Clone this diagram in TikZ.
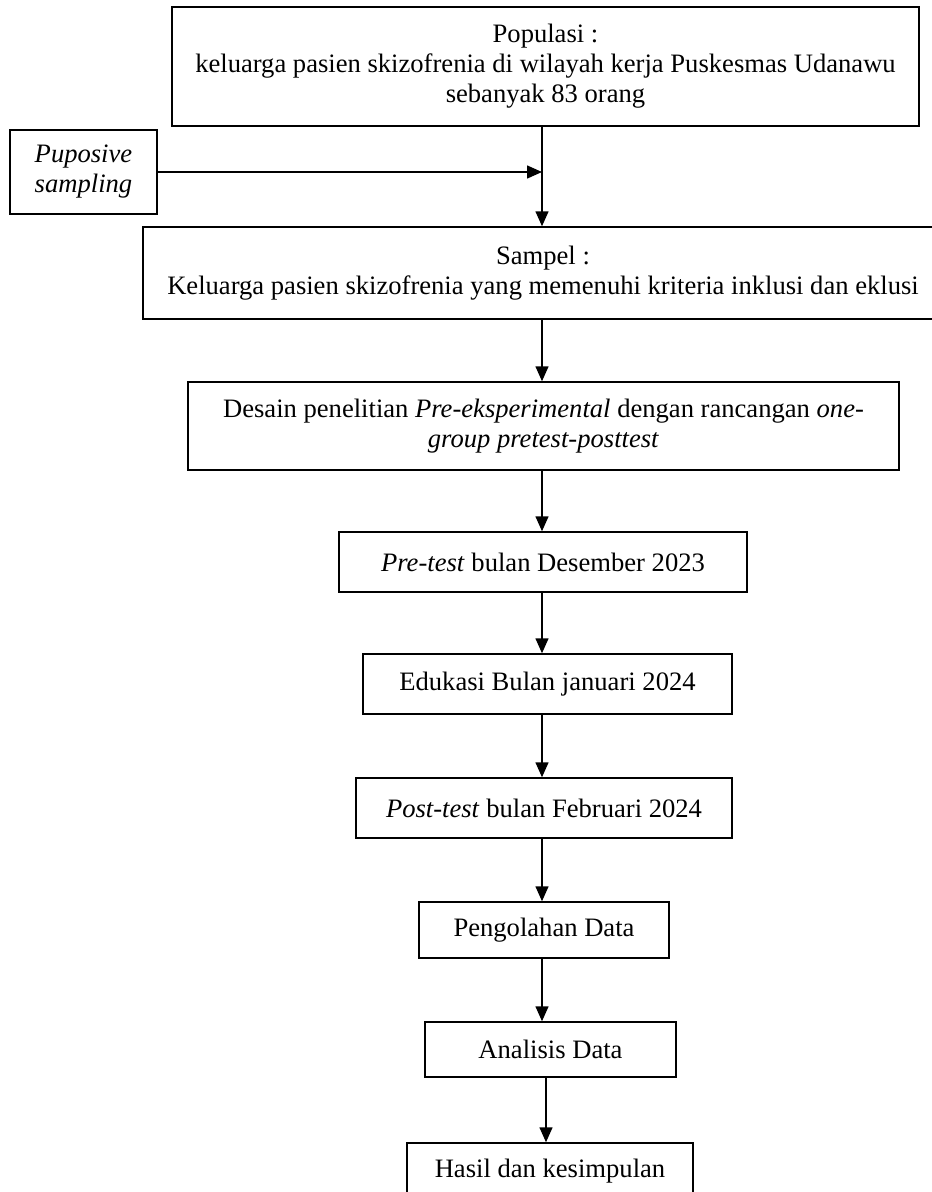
\documentclass[tikz,border=0pt]{standalone}
\usepackage{fontspec}
\setmainfont{Liberation Serif}
\usetikzlibrary{arrows.meta}
\begin{document}
\begin{tikzpicture}[x=1pt,y=-1pt,
  box/.style={draw, line width=1.5pt, inner sep=0pt, align=center, font=\fontsize{26.6}{30}\selectfont},
  arr/.style={line width=1.5pt, -{Triangle[length=15pt,width=13pt]}}]
\useasboundingbox (0,0) rectangle (932,1192);
\begin{scope}
\clip (0,0) rectangle (932,1192);
\node[box, minimum width=747pt, minimum height=119pt] (pop) at (545.5,66.5)
  {Populasi :\\keluarga pasien skizofrenia di wilayah kerja Puskesmas Udanawu\\sebanyak 83 orang};
\node[box, minimum width=147pt, minimum height=84pt] (pur) at (83.5,172)
  {\textit{Puposive}\\\textit{sampling}};
\node[box, minimum width=800pt, minimum height=92pt] (samp) at (543,273)
  {Sampel :\\Keluarga pasien skizofrenia yang memenuhi kriteria inklusi dan eklusi};
\node[box, minimum width=711pt, minimum height=88pt] (des) at (543.5,426)
  {Desain penelitian \textit{Pre-eksperimental} dengan rancangan \textit{one-}\\\textit{group pretest-posttest}};
\node[box, minimum width=408pt, minimum height=60pt] (pre) at (543,562)
  {\textit{Pre-test} bulan Desember 2023};
\node[box, minimum width=369pt, minimum height=60pt] (edu) at (547.5,684)
  {Edukasi Bulan januari 2024};
\node[box, minimum width=376pt, minimum height=60pt] (post) at (544,808)
  {\textit{Post-test} bulan Februari 2024};
\node[box, minimum width=250pt, minimum height=56pt] (peng) at (544,930)
  {Pengolahan Data};
\node[box, minimum width=251pt, minimum height=55pt] (anal) at (550.5,1049.5)
  {Analisis Data};
\node[box, minimum width=286pt, minimum height=56pt] (has) at (550,1171)
  {Hasil dan kesimpulan};
\coordinate (c1) at (542,0);
\coordinate (c2) at (546,0);
\draw[arr] (pop.south -| c1) -- (samp.north -| c1);
\draw[arr] (pur.east) -- (c1 |- pur.east);
\draw[arr] (samp.south -| c1) -- (des.north -| c1);
\draw[arr] (des.south -| c1) -- (pre.north -| c1);
\draw[arr] (pre.south -| c1) -- (edu.north -| c1);
\draw[arr] (edu.south -| c1) -- (post.north -| c1);
\draw[arr] (post.south -| c1) -- (peng.north -| c1);
\draw[arr] (peng.south -| c1) -- (anal.north -| c1);
\draw[arr] (anal.south -| c2) -- (has.north -| c2);
\end{scope}
\end{tikzpicture}
\end{document}
